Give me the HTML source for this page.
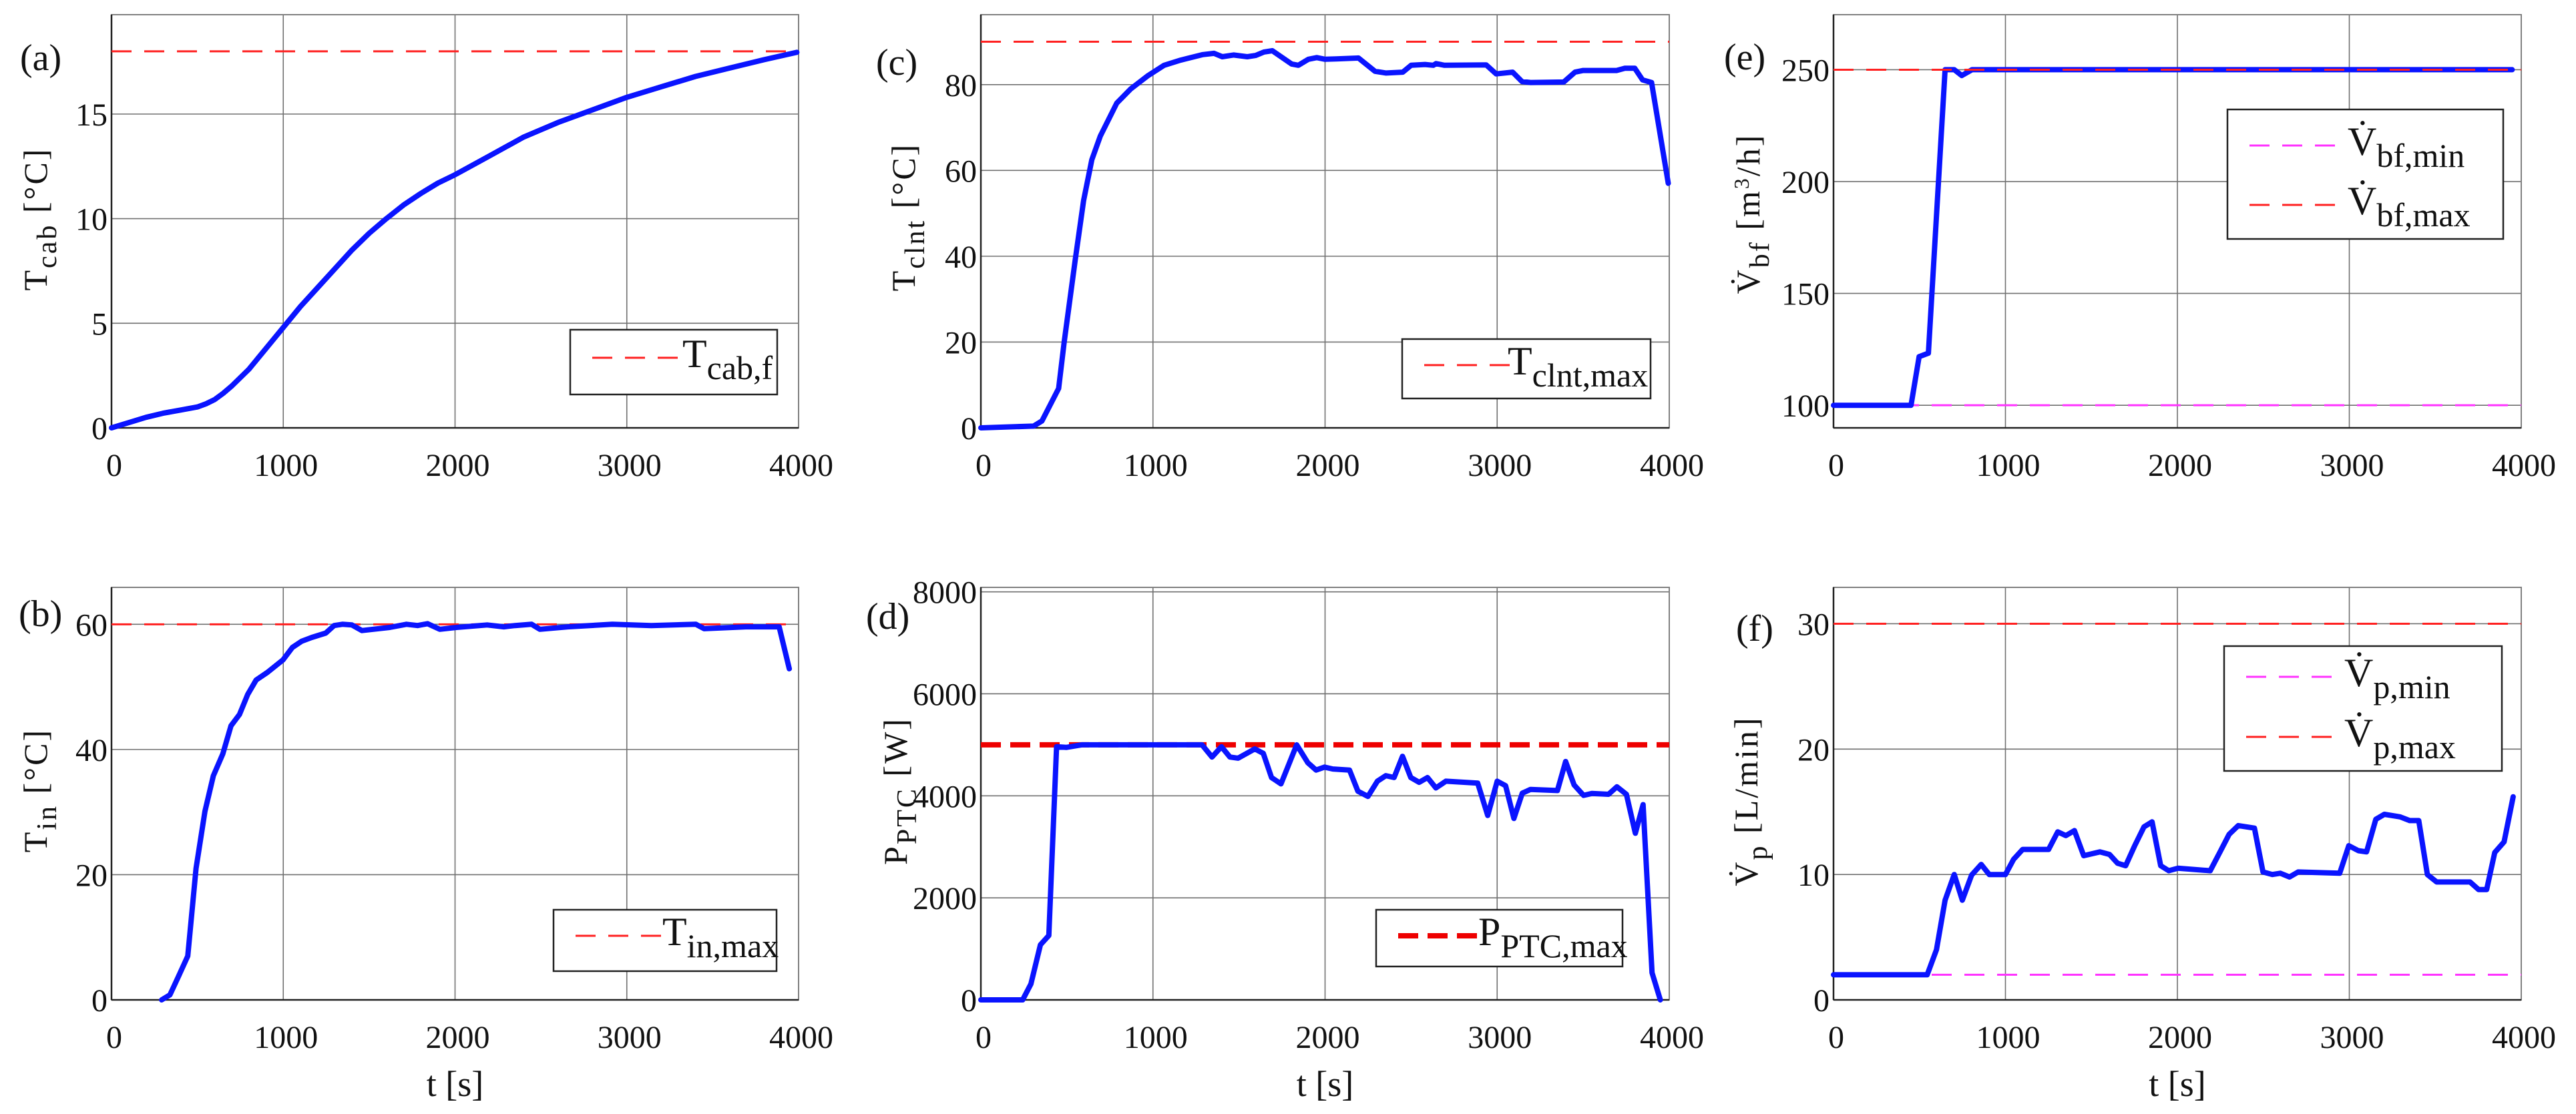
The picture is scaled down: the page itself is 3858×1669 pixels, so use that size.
<!DOCTYPE html>
<html><head><meta charset="utf-8"><style>
html,body{margin:0;padding:0;background:#fff}
svg{display:block}
text{font-family:"Liberation Serif",serif;fill:#111}
</style></head><body>
<svg id="fig" width="3858" height="1669" viewBox="0 0 3858 1669" xmlns="http://www.w3.org/2000/svg"></svg>
<script>
// ---- data ----
const tA=[0,100,200,300,400,500,550,600,650,700,800,900,1000,1100,1200,1300,1400,1500,1600,1700,1800,1900,2000,2200,2400,2600,2800,3000,3200,3400,3600,3800,3990];
const vA=[0,0.25,0.5,0.7,0.85,1.0,1.15,1.35,1.65,2.0,2.8,3.8,4.8,5.8,6.7,7.6,8.5,9.3,10.0,10.65,11.2,11.7,12.1,13.0,13.9,14.6,15.2,15.8,16.3,16.8,17.2,17.6,17.95];
const tB=[292,340,389,444,492,544,593,648,696,745,793,842,907,998,1053,1108,1166,1247,1296,1344,1399,1458,1620,1717,1782,1840,1911,2008,2187,2284,2349,2446,2494,2656,2916,3143,3402,3450,3693,3887,3946];
const vB=[0,0.8,3.7,7,21,30.1,35.8,39.3,43.8,45.6,48.8,51.1,52.3,54.3,56.3,57.3,57.9,58.6,59.8,60,59.9,59,59.5,60,59.8,60.1,59.2,59.5,59.9,59.6,59.8,60,59.2,59.6,60,59.8,60,59.3,59.6,59.6,52.9];
const tC=[0,306,355,452,484,548,597,645,694,790,871,968,1065,1161,1290,1355,1403,1468,1548,1597,1645,1694,1806,1845,1903,1952,2000,2065,2194,2290,2355,2452,2500,2581,2629,2645,2694,2936,2994,3090,3145,3194,3387,3452,3500,3694,3742,3800,3845,3897,3994];
const vC=[0,0.4,1.6,9.2,20,39,53,62.5,68,75.7,79,82,84.5,85.7,87,87.3,86.5,86.9,86.5,86.8,87.6,87.9,84.8,84.5,85.9,86.3,85.9,86,86.2,83.1,82.7,82.9,84.5,84.7,84.5,84.9,84.5,84.6,82.5,82.9,80.7,80.5,80.6,82.9,83.3,83.3,83.8,83.8,81.1,80.5,57];
const tD=[0,243,291,346,395,440,498,586,702,1285,1343,1398,1447,1495,1592,1641,1689,1744,1835,1900,1948,1997,2045,2142,2191,2249,2304,2353,2401,2450,2498,2547,2595,2644,2702,2887,2945,3000,3049,3097,3146,3194,3350,3398,3447,3502,3550,3647,3696,3751,3803,3848,3900,3948];
const vD=[0,0,313,1079,1261,4964,4950,5000,5000,5000,4760,4964,4760,4738,4920,4833,4359,4235,5000,4650,4505,4563,4527,4505,4090,3988,4287,4396,4359,4775,4359,4264,4359,4155,4287,4250,3616,4287,4199,3557,4053,4126,4104,4673,4213,4009,4046,4031,4177,4031,3266,3827,532,0];
const tE=[0,451,498,552,649,702,746,806,3947];
const vE=[100,100,121.7,123.3,250,250,247.4,250,250];
const tF=[0,545,599,649,702,749,803,859,906,1000,1047,1100,1251,1304,1351,1401,1455,1549,1605,1652,1699,1752,1806,1853,1903,1950,2003,2191,2248,2301,2354,2448,2498,2552,2599,2652,2702,2944,2997,3053,3100,3154,3204,3295,3351,3404,3454,3508,3602,3702,3752,3799,3846,3900,3953];
const vF=[2,2,4,7.95,10,7.95,9.95,10.8,10,10,11.2,12,12,13.4,13.1,13.5,11.5,11.8,11.6,10.9,10.7,12.3,13.8,14.2,10.7,10.3,10.5,10.3,11.8,13.2,13.9,13.7,10.2,10,10.1,9.8,10.2,10.1,12.3,11.9,11.8,14.4,14.8,14.6,14.3,14.3,10,9.4,9.4,9.4,8.8,8.8,11.75,12.6,16.2];
const xTicks=[0,1000,2000,3000,4000];
const yTicksA=[0,5,10,15], yTicksB=[0,20,40,60], yTicksC=[0,20,40,60,80];
const yTicksD=[0,2000,4000,6000,8000], yTicksE=[100,150,200,250], yTicksF=[0,10,20,30];

const NS="http://www.w3.org/2000/svg";
const svg=document.getElementById('fig');
function mk(tag,attrs,parent){const e=document.createElementNS(NS,tag);for(const k in attrs)e.setAttribute(k,attrs[k]);(parent||svg).appendChild(e);return e;}

function panel(o){
  const g=mk('g',{});
  
  
  const X=t=>o.x0+(t-0)/4000*(o.x1-o.x0);
  const Y=v=>o.y1-(v-o.ymin)/(o.ymax-o.ymin)*(o.y1-o.y0);
  xTicks.forEach(t=>{const l=mk('line',{x1:X(t),x2:X(t),y1:o.y0,y2:o.y1,stroke:'#707070','stroke-width':1.6},g);
    
    const tx=mk('text',{x:X(t)+4,y:o.y1+72,'font-size':48,'text-anchor':'middle'},g);tx.textContent=t;
    });
  o.yt.forEach(v=>{const l=mk('line',{x1:o.x0,x2:o.x1,y1:Y(v),y2:Y(v),stroke:'#707070','stroke-width':1.6},g);
    
    const tx=mk('text',{x:o.x0-6,y:Y(v)+17,'font-size':48,'text-anchor':'end'},g);tx.textContent=v;
    });
  const fr=mk('rect',{x:o.x0,y:o.y0,width:o.x1-o.x0,height:o.y1-o.y0,fill:'none',stroke:'#808080','stroke-width':2},g);
  
  mk('line',{x1:o.x0,x2:o.x0,y1:o.y0,y2:o.y1,stroke:'#222','stroke-width':2.5},g);
  mk('line',{x1:o.x0,x2:o.x1,y1:o.y1,y2:o.y1,stroke:'#222','stroke-width':2.5},g);
  o.refs.forEach(r=>{const l=mk('line',{x1:o.x0,x2:o.x1,y1:Y(r.v),y2:Y(r.v),stroke:r.c,'stroke-width':r.w||3,'stroke-dasharray':r.d||'30 19'},g);
    });
  const pts=o.t.map((t,i)=>X(t).toFixed(1)+','+Y(o.v[i]).toFixed(1)).join(' ');
  const pl=mk('polyline',{points:pts,fill:'none',stroke:'#0a14ff','stroke-width':8,'stroke-linejoin':'round','stroke-linecap':'round'},g);
  
  if(o.refTop){const r=o.refTop;const l=mk('line',{x1:o.x0,x2:o.x1,y1:Y(r.v),y2:Y(r.v),stroke:r.c,'stroke-width':3,'stroke-dasharray':'30 19'},g);
    }
  const pl2=mk('text',{x:o.lx,y:o.ly,'font-size':56},g);pl2.textContent=o.label;
  
  const yl=mk('text',{transform:`translate(${o.ylx},${o.yly}) rotate(-90)`,'font-size':50,'text-anchor':'middle','letter-spacing':3},g);
  
  yl.innerHTML=o.ylab;
  if(o.xlab){const xl=mk('text',{x:(o.x0+o.x1)/2,y:1642,'font-size':54,'text-anchor':'middle'},g);xl.textContent='t [s]';
    }
  const L=o.leg;
  const lb=mk('rect',{x:L.x,y:L.y,width:L.w,height:L.h,fill:'#fff',stroke:'#222','stroke-width':2.5},g);
  
  L.items.forEach(it=>{
    const dl=mk('line',{x1:L.x+33,x2:L.x+163,y1:it.y,y2:it.y,stroke:it.c,'stroke-width':it.w||3,'stroke-dasharray':it.d||'30 19'},g);
    
    const tx=mk('text',{x:L.x+L.tx,y:it.y+14,'font-size':60},g);tx.innerHTML=it.html;
    });
}

const R1={y0:22,y1:641}, R2={y0:880,y1:1498};
const C1={x0:167,x1:1196}, C2={x0:1469,x1:2500}, C3={x0:2746,x1:3776};
const sub=s=>`<tspan dy="18" font-size="50">${s}</tspan>`;

panel({name:'panel-a-cabin-temp',...C1,...R1,ymin:0,ymax:19.75,yt:yTicksA,t:tA,v:vA,
  refs:[{v:18,c:'#ff2020',n:'t-cab-final-line'}],label:'(a)',lx:30,ly:105,
  ylx:70,yly:328,ylab:'T<tspan dy="14" font-size="42">cab</tspan><tspan dy="-14"> [°C]</tspan>',
  leg:{x:854,y:494,w:310,h:97,tx:168,items:[{y:536,c:'#ff2020',html:'T'+sub('cab,f')}]}});
panel({name:'panel-b-inlet-temp',...C1,...R2,ymin:0,ymax:65.9,yt:yTicksB,t:tB,v:vB,
  refs:[{v:60,c:'#ff2020',n:'t-in-max-line'}],label:'(b)',lx:28,ly:938,xlab:true,
  ylx:70,yly:1184,ylab:'T<tspan dy="14" font-size="42">in</tspan><tspan dy="-14"> [°C]</tspan>',
  leg:{x:829,y:1363,w:334,h:92,tx:163,items:[{y:1402,c:'#ff2020',html:'T'+sub('in,max')}]}});
panel({name:'panel-c-coolant-temp',...C2,...R1,ymin:0,ymax:96.3,yt:yTicksC,t:tC,v:vC,
  refs:[{v:90,c:'#ff2020',n:'t-clnt-max-line'}],label:'(c)',lx:1312,ly:112,
  ylx:1370,yly:325,ylab:'T<tspan dy="14" font-size="42">clnt</tspan><tspan dy="-14"> [°C]</tspan>',
  leg:{x:2100,y:508,w:372,h:89,tx:158,items:[{y:547,c:'#ff2020',html:'T'+sub('clnt,max')}]}});
panel({name:'panel-d-ptc-power',...C2,...R2,ymin:0,ymax:8087,yt:yTicksD,t:tD,v:vD,
  refs:[{v:5000,c:'#ee0000',w:8,d:'30 14',n:'p-ptc-max-line'}],label:'(d)',lx:1297,ly:942,xlab:true,
  ylx:1358,yly:1185,ylab:'P<tspan dy="14" font-size="42">PTC</tspan><tspan dy="-14"> [W]</tspan>',
  leg:{x:2061,y:1363,w:369,h:85,tx:153,items:[{y:1402,c:'#ee0000',w:8,d:'30 14',html:'P'+sub('PTC,max')}]}});
panel({name:'panel-e-blower-flow',...C3,...R1,ymin:89.9,ymax:274.6,yt:yTicksE,t:tE,v:vE,
  refs:[{v:100,c:'#ff33ff',n:'v-bf-min-line'}],refTop:{v:250,c:'#ff2020',n:'v-bf-max-line'},label:'(e)',lx:2582,ly:104,
  ylx:2635,yly:320,ylab:'V\u0307<tspan dy="14" font-size="42">bf</tspan><tspan dy="-14"> [m</tspan><tspan dy="-16" font-size="32">3</tspan><tspan dy="16">/h]</tspan>',
  leg:{x:3336,y:164,w:413,h:194,tx:180,items:[{y:218,c:'#ff33ff',html:'V\u0307'+sub('bf,min')},{y:307,c:'#ff2020',html:'V\u0307'+sub('bf,max')}]}});
panel({name:'panel-f-pump-flow',...C3,...R2,ymin:0,ymax:32.9,yt:yTicksF,t:tF,v:vF,
  refs:[{v:2,c:'#ff33ff',n:'v-p-min-line'},{v:30,c:'#ff2020',n:'v-p-max-line'}],label:'(f)',lx:2600,ly:960,xlab:true,
  ylx:2632,yly:1200,ylab:'V\u0307<tspan dy="14" font-size="42">p</tspan><tspan dy="-14"> [L/min]</tspan>',
  leg:{x:3331,y:968,w:416,h:187,tx:180,items:[{y:1014,c:'#ff33ff',html:'V\u0307'+sub('p,min')},{y:1104,c:'#ff2020',html:'V\u0307'+sub('p,max')}]}});
</script>
</body></html>
